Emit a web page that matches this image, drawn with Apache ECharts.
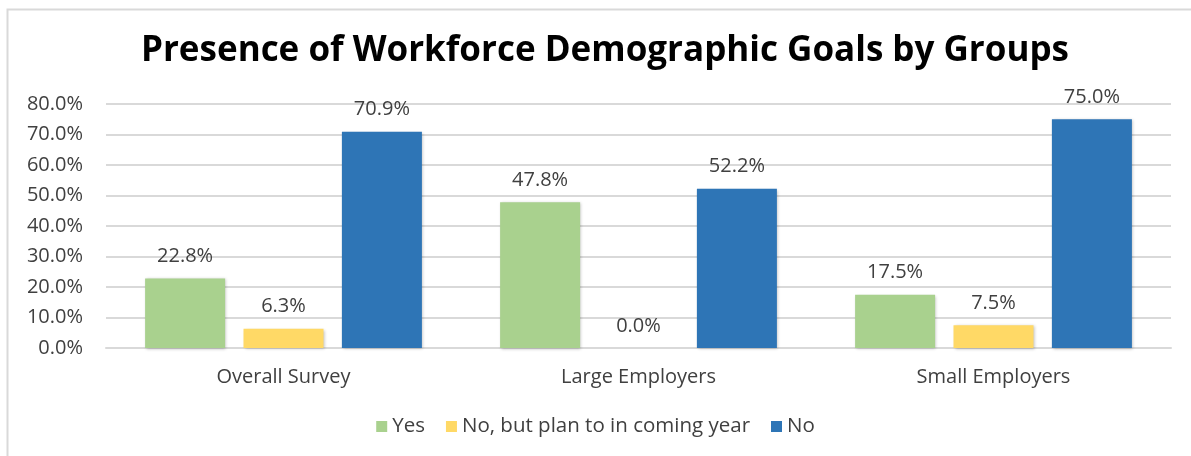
<!DOCTYPE html>
<html>
<head>
<meta charset="utf-8">
<script src="https://cdn.jsdelivr.net/npm/echarts@6/dist/echarts.min.js"></script>
<style>
  html, body { margin: 0; padding: 0; background: #fff; }
  #chart { width: 1191px; height: 456px; }
</style>
</head>
<body>
<div id="chart"></div>
<script>
// Survey groups and answer shares (percent)
const categories = ['Overall Survey', 'Large Employers', 'Small Employers'];
const yesValues = [22.8, 47.8, 17.5];
const planValues = [6.3, 0.0, 7.5];
const noValues = [70.9, 52.2, 75.0];
const seriesNames = ['Yes', 'No, but plan to in coming year', 'No'];
const titleText = 'Presence of Workforce Demographic Goals by Groups';

const textColor = '#404040';
const fontFamily = '"Open Sans", "Liberation Sans", sans-serif';

function barSeries(name, data, color) {
  return {
    name: name,
    type: 'bar',
    data: data,
    barWidth: 80,
    barGap: '23%',
    itemStyle: {
      color: color,
      shadowColor: 'rgba(0,0,0,0.25)',
      shadowBlur: 3,
      shadowOffsetX: 1,
      shadowOffsetY: 1
    },
    label: {
      show: true,
      position: 'top',
      distance: 12,
      color: textColor,
      fontFamily: fontFamily,
      fontSize: 20,
      formatter: p => p.value.toFixed(1) + '%'
    }
  };
}

const chart = echarts.init(document.getElementById('chart'), null, { renderer: 'canvas' });
chart.setOption({
  animation: false,
  backgroundColor: '#fff',
  graphic: [{
    type: 'rect',
    shape: { x: 7.5, y: 9.5, width: 1200, height: 470 },
    style: { fill: 'none', stroke: '#d9d9d9', lineWidth: 2 },
    silent: true
  }],
  title: {
    text: titleText,
    left: 136,
    top: 29,
    textStyle: {
      fontFamily: fontFamily,
      fontWeight: 'bold',
      fontSize: 35,
      color: '#000'
    }
  },
  legend: {
    bottom: 14,
    left: 'center',
    itemWidth: 11,
    itemHeight: 11,
    itemGap: 21,
    icon: 'rect',
    textStyle: { color: textColor, fontFamily: fontFamily, fontSize: 20.5 },
    data: seriesNames
  },
  grid: { left: 106, right: 20, top: 104, bottom: 108, containLabel: false },
  xAxis: {
    type: 'category',
    data: categories,
    axisTick: { show: false },
    axisLine: { lineStyle: { color: '#d9d9d9', width: 2 } },
    axisLabel: { color: textColor, fontFamily: fontFamily, fontSize: 20, margin: 19 }
  },
  yAxis: {
    type: 'value',
    min: 0,
    max: 80,
    interval: 10,
    axisLine: { show: false },
    axisTick: { show: false },
    splitLine: { lineStyle: { color: '#d9d9d9', width: 2 } },
    axisLabel: {
      color: textColor,
      fontFamily: fontFamily,
      fontSize: 20,
      margin: 23,
      formatter: v => v.toFixed(1) + '%'
    }
  },
  series: [
    barSeries(seriesNames[0], yesValues, '#a9d18e'),
    barSeries(seriesNames[1], planValues, '#ffd966'),
    barSeries(seriesNames[2], noValues, '#2e75b6')
  ]
});
</script>
</body>
</html>
